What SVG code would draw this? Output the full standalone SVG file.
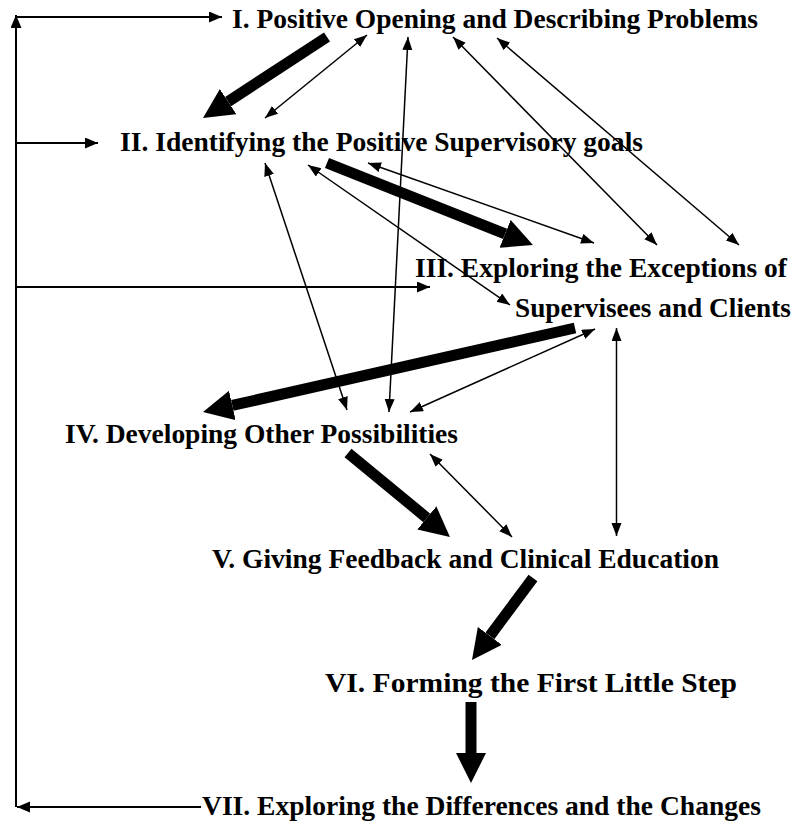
<svg xmlns="http://www.w3.org/2000/svg" width="797" height="825" viewBox="0 0 797 825">
<style>
.lbl{font-family:"Liberation Serif","Times New Roman",serif;font-weight:bold;font-size:27.5px;fill:#000}
.frame{stroke:#000;stroke-width:2;fill:none}
.thin{stroke:#000;stroke-width:1.5;fill:none;marker-start:url(#ah);marker-end:url(#ah)}
.thick{stroke:#000;stroke-width:11;fill:none;marker-end:url(#big)}
</style>
<defs>
<marker id="ah" markerUnits="userSpaceOnUse" markerWidth="15" markerHeight="11" refX="13" refY="5" orient="auto-start-reverse" viewBox="0 0 15 11">
<path d="M0,0 L13,5 L0,10 z" fill="#000"/>
</marker>
<marker id="fa" markerUnits="userSpaceOnUse" markerWidth="14" markerHeight="12" refX="13" refY="5.5" orient="auto" viewBox="0 0 14 12">
<path d="M0,0 L13,5.5 L0,11 z" fill="#000"/>
</marker>
<marker id="big" markerUnits="userSpaceOnUse" markerWidth="32" markerHeight="32" refX="0" refY="15" orient="auto" viewBox="0 0 32 32">
<path d="M0,0 L30,15 L0,30 z" fill="#000"/>
</marker>
</defs>
<g id="connectors">
<line class="frame" x1="16" y1="807" x2="16" y2="15" marker-end="url(#fa)"/>
<line class="frame" x1="16" y1="17" x2="222" y2="17" marker-end="url(#fa)"/>
<line class="frame" x1="16" y1="143" x2="98" y2="143" marker-end="url(#fa)"/>
<line class="frame" x1="16" y1="287" x2="430" y2="287" marker-end="url(#fa)"/>
<line class="frame" x1="201" y1="807" x2="17" y2="807" marker-end="url(#fa)"/>
<line class="thin" x1="367" y1="35" x2="265" y2="118"/>
<line class="thin" x1="408" y1="37" x2="389" y2="412"/>
<line class="thin" x1="453" y1="37" x2="657" y2="245"/>
<line class="thin" x1="497" y1="38" x2="739" y2="245"/>
<line class="thin" x1="368" y1="163" x2="594" y2="243"/>
<line class="thin" x1="308" y1="165" x2="510" y2="305"/>
<line class="thin" x1="265" y1="163" x2="347" y2="410"/>
<line class="thin" x1="595" y1="329" x2="410" y2="412"/>
<line class="thin" x1="616.5" y1="328" x2="616.5" y2="536"/>
<line class="thin" x1="430" y1="454" x2="512" y2="537"/>
<line class="thick" x1="327" y1="37" x2="228.1" y2="101.6"/>
<line class="thick" x1="327" y1="163" x2="505.1" y2="233.9"/>
<line class="thick" x1="575" y1="328" x2="232.3" y2="405.4"/>
<line class="thick" x1="348" y1="453" x2="426.8" y2="517.9"/>
<line class="thick" x1="533" y1="578" x2="489.9" y2="635.9"/>
<line class="thick" x1="471" y1="702" x2="471" y2="753"/>
</g>
<g id="n1"><text class="lbl" x="232" y="28" textLength="526" lengthAdjust="spacingAndGlyphs">I. Positive Opening and Describing Problems</text></g>
<g id="n2"><text class="lbl" x="120" y="151" textLength="523" lengthAdjust="spacingAndGlyphs">II. Identifying the Positive Supervisory goals</text></g>
<g id="n3"><text class="lbl" x="415" y="277" textLength="372" lengthAdjust="spacingAndGlyphs">III. Exploring the Exceptions of</text><text class="lbl" x="515" y="317" textLength="276" lengthAdjust="spacingAndGlyphs">Supervisees and Clients</text></g>
<g id="n4"><text class="lbl" x="65" y="443" textLength="393" lengthAdjust="spacingAndGlyphs">IV. Developing Other Possibilities</text></g>
<g id="n5"><text class="lbl" x="212" y="568" textLength="507" lengthAdjust="spacingAndGlyphs">V. Giving Feedback and Clinical Education</text></g>
<g id="n6"><text class="lbl" x="325" y="692" textLength="412" lengthAdjust="spacingAndGlyphs">VI. Forming the First Little Step</text></g>
<g id="n7"><text class="lbl" x="202" y="815" textLength="559" lengthAdjust="spacingAndGlyphs">VII. Exploring the Differences and the Changes</text></g>
</svg>
